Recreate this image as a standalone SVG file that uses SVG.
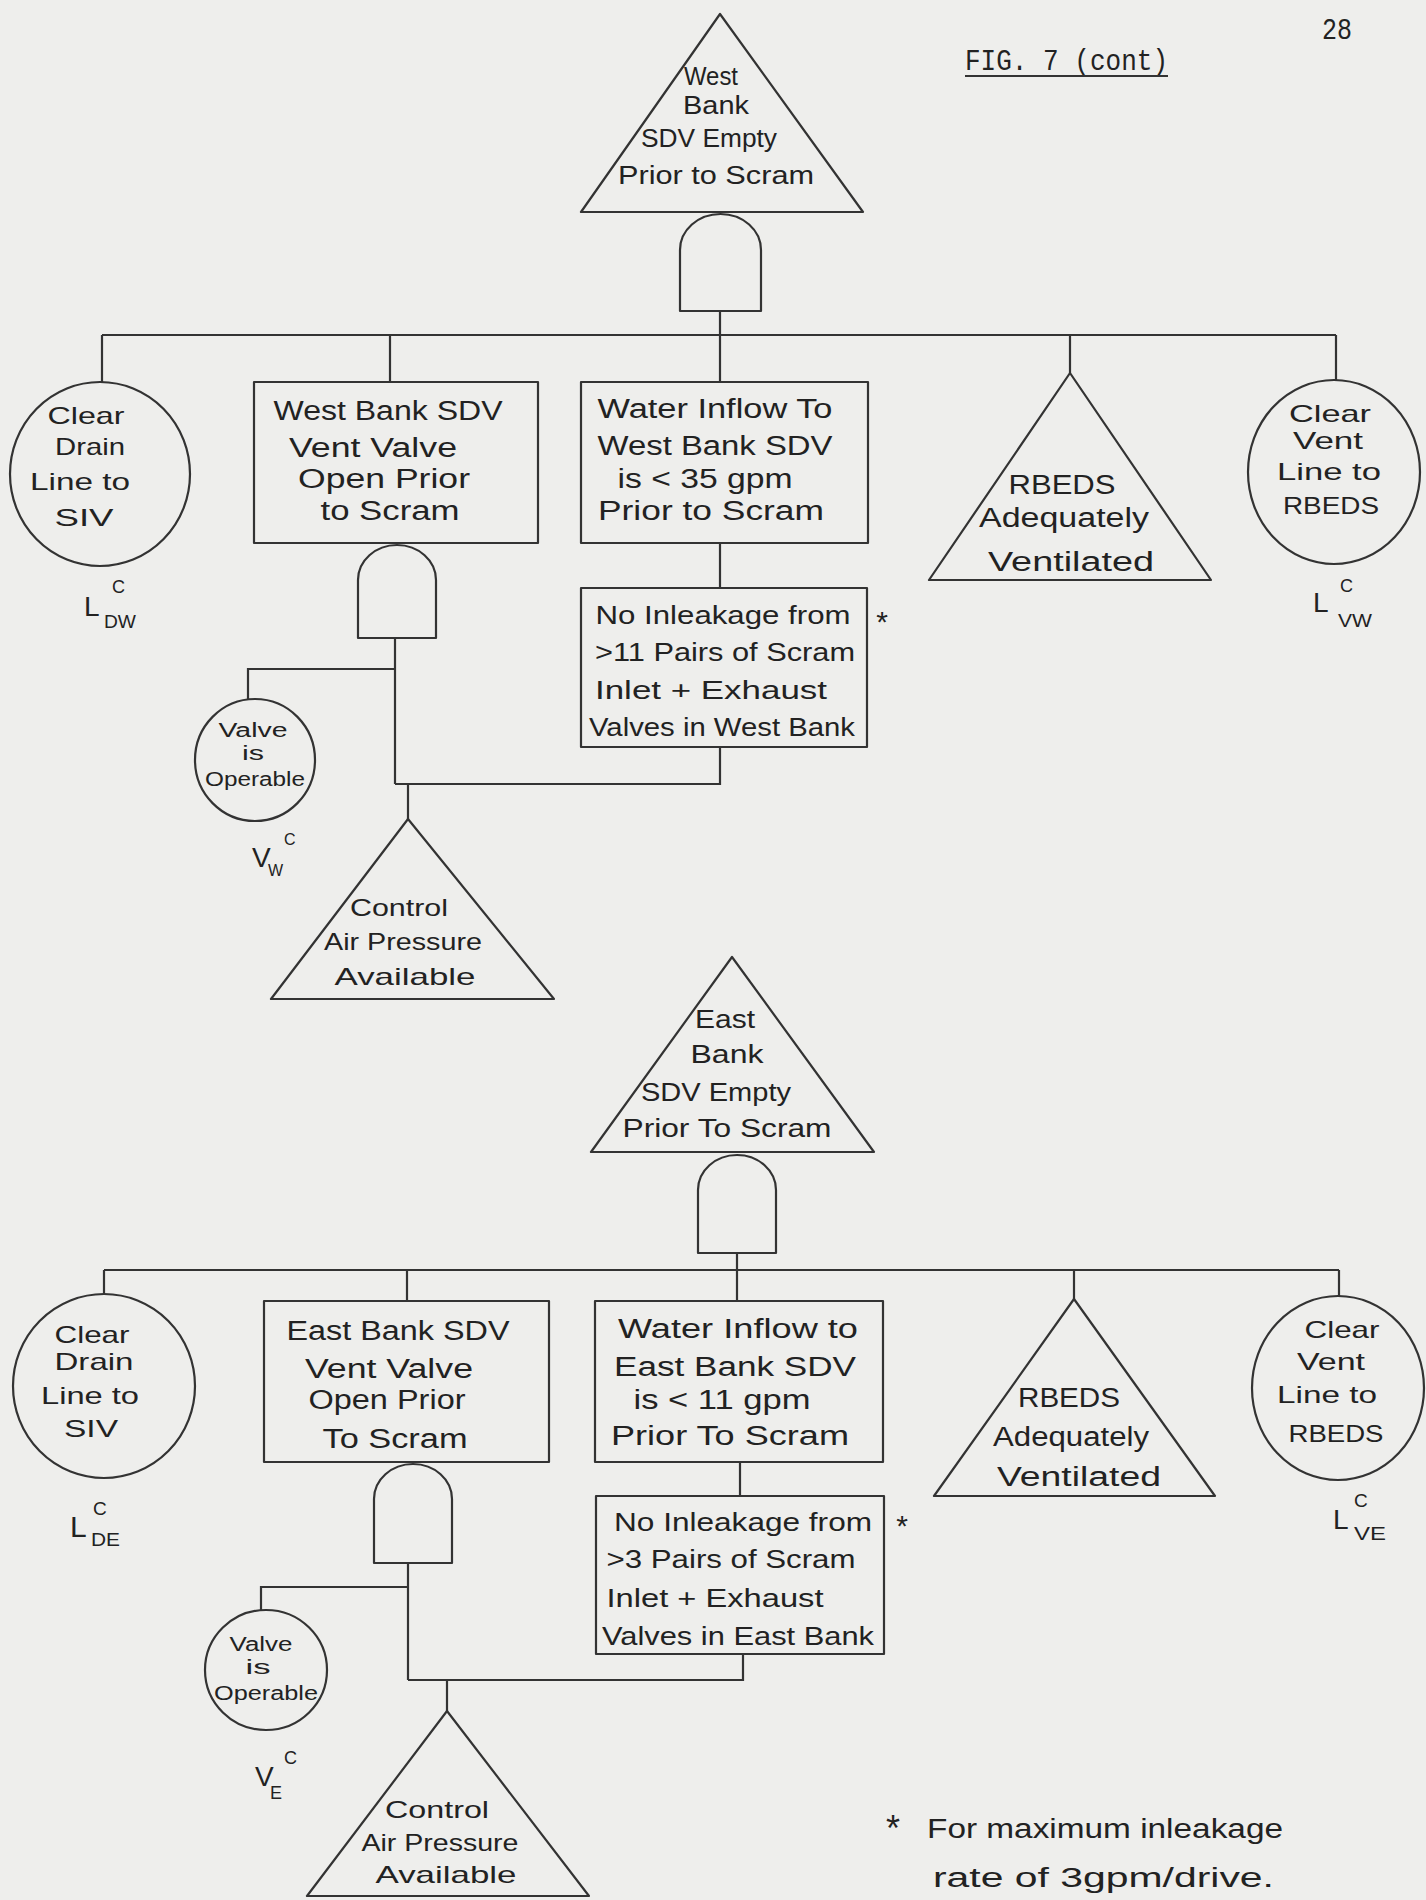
<svg xmlns="http://www.w3.org/2000/svg" width="1426" height="1900" viewBox="0 0 1426 1900">
<style>
.s{fill:none;stroke:#333;stroke-width:2.2;stroke-linejoin:round}
.c{fill:none;stroke:#333;stroke-width:2.2}
text{font-family:"Liberation Sans",Arial,sans-serif;fill:#222}
.t{font-size:27px;text-anchor:middle}
.tc{font-size:24px;text-anchor:middle}
.tv{font-size:20px;text-anchor:middle}
.L{font-size:28px}
.sub{font-size:18px}
.m{font-family:"Liberation Mono","Courier New",monospace;font-size:30px}
.ast{font-size:30px;text-anchor:middle}
</style>
<rect width="1426" height="1900" fill="#eeeeec"/>
<g id="header">
<text class="m" x="965" y="70" textLength="203" lengthAdjust="spacingAndGlyphs">FIG. 7 (cont)</text>
<line class="c" x1="965" y1="76" x2="1168" y2="76"/>
<text class="m" x="1322" y="39" textLength="30" lengthAdjust="spacingAndGlyphs">28</text>
</g>
<g id="connectors">
<path class="c" d="M720,311V335M102,335H1336M102,335V382M390,335V382M720,335V382M1070,335V373M1336,335V380M720,543V588M395,638V784M395,669H248V699M395,784H720V747M408,784V819"/>
<path class="c" d="M737,1253V1270M104,1270H1339M104,1270V1293M407,1270V1301M737,1270V1301M1074,1270V1299M1339,1270V1296M740,1462V1496M408,1563V1680M408,1587H261V1610M408,1680H743V1654M447,1680V1711"/>
</g>
<g id="w_top">
<path class="s" d="M720,14L581,212H863Z"/>
<text class="t" style="font-size:26px" x="711" y="85" textLength="54" lengthAdjust="spacingAndGlyphs">West</text>
<text class="t" style="font-size:26px" x="716" y="114" textLength="66" lengthAdjust="spacingAndGlyphs">Bank</text>
<text class="t" style="font-size:26px" x="709" y="147" textLength="136" lengthAdjust="spacingAndGlyphs">SDV Empty</text>
<text class="t" style="font-size:26px" x="716" y="184" textLength="196" lengthAdjust="spacingAndGlyphs">Prior to Scram</text>
</g>
<g id="w_gate1"><path class="s" d="M680,311V250A40.5,36 0 0 1 761,250V311Z"/></g>
<g id="w_drain">
<ellipse class="s" cx="100" cy="474" rx="90" ry="92"/>
<text class="tc" x="86" y="424" textLength="77" lengthAdjust="spacingAndGlyphs">Clear</text>
<text class="tc" x="90" y="455" textLength="70" lengthAdjust="spacingAndGlyphs">Drain</text>
<text class="tc" x="80" y="490" textLength="100" lengthAdjust="spacingAndGlyphs">Line to</text>
<text class="tc" x="84" y="526" textLength="59" lengthAdjust="spacingAndGlyphs">SIV</text>
<text class="L" x="84" y="616">L</text>
<text class="sub" x="112" y="593">C</text>
<text class="sub" x="104" y="628" textLength="32" lengthAdjust="spacingAndGlyphs">DW</text>
</g>
<g id="w_vent_valve">
<rect class="s" x="254" y="382" width="284" height="161"/>
<text class="t" x="388" y="420" textLength="229" lengthAdjust="spacingAndGlyphs">West Bank SDV</text>
<text class="t" x="373" y="457" textLength="168" lengthAdjust="spacingAndGlyphs">Vent Valve</text>
<text class="t" x="384" y="488" textLength="172" lengthAdjust="spacingAndGlyphs">Open Prior</text>
<text class="t" x="390" y="520" textLength="139" lengthAdjust="spacingAndGlyphs">to Scram</text>
</g>
<g id="w_gate2"><path class="s" d="M358,638V580A39,35 0 0 1 436,580V638Z"/></g>
<g id="w_inflow">
<rect class="s" x="581" y="382" width="287" height="161"/>
<text class="t" x="715" y="418" textLength="235" lengthAdjust="spacingAndGlyphs">Water Inflow To</text>
<text class="t" x="715" y="455" textLength="235" lengthAdjust="spacingAndGlyphs">West Bank SDV</text>
<text class="t" x="705" y="488" textLength="175" lengthAdjust="spacingAndGlyphs">is &lt; 35 gpm</text>
<text class="t" x="711" y="520" textLength="226" lengthAdjust="spacingAndGlyphs">Prior to Scram</text>
</g>
<g id="w_inleak">
<rect class="s" x="581" y="588" width="286" height="159"/>
<text class="t" style="font-size:26px" x="723" y="624" textLength="255" lengthAdjust="spacingAndGlyphs">No Inleakage from</text>
<text class="t" style="font-size:26px" x="725" y="661" textLength="260" lengthAdjust="spacingAndGlyphs">&gt;11 Pairs of Scram</text>
<text class="t" style="font-size:26px" x="711" y="699" textLength="232" lengthAdjust="spacingAndGlyphs">Inlet + Exhaust</text>
<text class="t" style="font-size:26px" x="722" y="736" textLength="266" lengthAdjust="spacingAndGlyphs">Valves in West Bank</text>
<text class="ast" x="882" y="632">*</text>
</g>
<g id="w_valve_op">
<ellipse class="s" cx="255" cy="760" rx="60" ry="61"/>
<text class="tv" x="253" y="737" textLength="69" lengthAdjust="spacingAndGlyphs">Valve</text>
<text class="tv" x="253" y="760" textLength="22" lengthAdjust="spacingAndGlyphs">is</text>
<text class="tv" x="255" y="786" textLength="100" lengthAdjust="spacingAndGlyphs">Operable</text>
<text class="L" x="252" y="867">V</text>
<text class="sub" style="font-size:16px" x="284" y="845">C</text>
<text class="sub" style="font-size:16px" x="268" y="876">W</text>
</g>
<g id="w_air">
<path class="s" d="M408,819L271,999H554Z"/>
<text class="tc" x="399" y="916" textLength="98" lengthAdjust="spacingAndGlyphs">Control</text>
<text class="tc" x="403" y="950" textLength="158" lengthAdjust="spacingAndGlyphs">Air Pressure</text>
<text class="tc" x="405" y="985" textLength="141" lengthAdjust="spacingAndGlyphs">Available</text>
</g>
<g id="w_rbeds">
<path class="s" d="M1070,373L929,580H1211Z"/>
<text class="t" x="1062" y="494" textLength="107" lengthAdjust="spacingAndGlyphs">RBEDS</text>
<text class="t" x="1064" y="527" textLength="170" lengthAdjust="spacingAndGlyphs">Adequately</text>
<text class="t" x="1071" y="571" textLength="166" lengthAdjust="spacingAndGlyphs">Ventilated</text>
</g>
<g id="w_vent_line">
<ellipse class="s" cx="1334" cy="472" rx="86" ry="92"/>
<text class="tc" x="1330" y="422" textLength="82" lengthAdjust="spacingAndGlyphs">Clear</text>
<text class="tc" x="1328" y="449" textLength="70" lengthAdjust="spacingAndGlyphs">Vent</text>
<text class="tc" x="1329" y="480" textLength="104" lengthAdjust="spacingAndGlyphs">Line to</text>
<text class="tc" x="1331" y="514" textLength="96" lengthAdjust="spacingAndGlyphs">RBEDS</text>
<text class="L" x="1313" y="612">L</text>
<text class="sub" x="1340" y="592">C</text>
<text class="sub" x="1338" y="627" textLength="34" lengthAdjust="spacingAndGlyphs">VW</text>
</g>
<g id="e_top">
<path class="s" d="M732,957L591,1152H874Z"/>
<text class="t" style="font-size:26px" x="725" y="1028" textLength="60" lengthAdjust="spacingAndGlyphs">East</text>
<text class="t" style="font-size:26px" x="727" y="1063" textLength="73" lengthAdjust="spacingAndGlyphs">Bank</text>
<text class="t" style="font-size:26px" x="716" y="1101" textLength="150" lengthAdjust="spacingAndGlyphs">SDV Empty</text>
<text class="t" style="font-size:26px" x="727" y="1137" textLength="209" lengthAdjust="spacingAndGlyphs">Prior To Scram</text>
</g>
<g id="e_gate1"><path class="s" d="M698,1253V1190A39,35 0 0 1 776,1190V1253Z"/></g>
<g id="e_drain">
<ellipse class="s" cx="104" cy="1386" rx="91" ry="92"/>
<text class="tc" x="92" y="1343" textLength="75" lengthAdjust="spacingAndGlyphs">Clear</text>
<text class="tc" x="94" y="1370" textLength="79" lengthAdjust="spacingAndGlyphs">Drain</text>
<text class="tc" x="90" y="1404" textLength="98" lengthAdjust="spacingAndGlyphs">Line to</text>
<text class="tc" x="91" y="1437" textLength="54" lengthAdjust="spacingAndGlyphs">SIV</text>
<text class="L" style="font-size:30px" x="70" y="1537">L</text>
<text class="sub" style="font-size:19px" x="93" y="1515">C</text>
<text class="sub" style="font-size:19px" x="91" y="1546" textLength="29" lengthAdjust="spacingAndGlyphs">DE</text>
</g>
<g id="e_vent_valve">
<rect class="s" x="264" y="1301" width="285" height="161"/>
<text class="t" x="398" y="1340" textLength="223" lengthAdjust="spacingAndGlyphs">East Bank SDV</text>
<text class="t" x="389" y="1378" textLength="168" lengthAdjust="spacingAndGlyphs">Vent Valve</text>
<text class="t" x="387" y="1409" textLength="157" lengthAdjust="spacingAndGlyphs">Open Prior</text>
<text class="t" x="395" y="1448" textLength="145" lengthAdjust="spacingAndGlyphs">To Scram</text>
</g>
<g id="e_gate2"><path class="s" d="M374,1563V1499A39,35 0 0 1 452,1499V1563Z"/></g>
<g id="e_inflow">
<rect class="s" x="595" y="1301" width="288" height="161"/>
<text class="t" x="738" y="1338" textLength="240" lengthAdjust="spacingAndGlyphs">Water Inflow to</text>
<text class="t" x="735" y="1376" textLength="242" lengthAdjust="spacingAndGlyphs">East Bank SDV</text>
<text class="t" x="722" y="1409" textLength="177" lengthAdjust="spacingAndGlyphs">is &lt; 11 gpm</text>
<text class="t" x="730" y="1445" textLength="238" lengthAdjust="spacingAndGlyphs">Prior To Scram</text>
</g>
<g id="e_inleak">
<rect class="s" x="596" y="1496" width="288" height="158"/>
<text class="t" style="font-size:26px" x="743" y="1531" textLength="258" lengthAdjust="spacingAndGlyphs">No Inleakage from</text>
<text class="t" style="font-size:26px" x="731" y="1568" textLength="249" lengthAdjust="spacingAndGlyphs">&gt;3 Pairs of Scram</text>
<text class="t" style="font-size:26px" x="715" y="1607" textLength="217" lengthAdjust="spacingAndGlyphs">Inlet + Exhaust</text>
<text class="t" style="font-size:26px" x="738" y="1645" textLength="272" lengthAdjust="spacingAndGlyphs">Valves in East Bank</text>
<text class="ast" x="902" y="1536">*</text>
</g>
<g id="e_valve_op">
<ellipse class="s" cx="266" cy="1670" rx="61" ry="60"/>
<text class="tv" x="261" y="1651" textLength="63" lengthAdjust="spacingAndGlyphs">Valve</text>
<text class="tv" x="258" y="1674" textLength="25" lengthAdjust="spacingAndGlyphs">is</text>
<text class="tv" x="266" y="1700" textLength="104" lengthAdjust="spacingAndGlyphs">Operable</text>
<text class="L" x="255" y="1786">V</text>
<text class="sub" x="284" y="1764">C</text>
<text class="sub" x="270" y="1799">E</text>
</g>
<g id="e_air">
<path class="s" d="M447,1711L307,1896H589Z"/>
<text class="tc" x="437" y="1818" textLength="104" lengthAdjust="spacingAndGlyphs">Control</text>
<text class="tc" x="440" y="1851" textLength="157" lengthAdjust="spacingAndGlyphs">Air Pressure</text>
<text class="tc" x="446" y="1883" textLength="141" lengthAdjust="spacingAndGlyphs">Available</text>
</g>
<g id="e_rbeds">
<path class="s" d="M1074,1299L934,1496H1215Z"/>
<text class="t" x="1069" y="1407" textLength="102" lengthAdjust="spacingAndGlyphs">RBEDS</text>
<text class="t" x="1071" y="1446" textLength="156" lengthAdjust="spacingAndGlyphs">Adequately</text>
<text class="t" x="1079" y="1486" textLength="164" lengthAdjust="spacingAndGlyphs">Ventilated</text>
</g>
<g id="e_vent_line">
<ellipse class="s" cx="1338" cy="1388" rx="86" ry="92"/>
<text class="tc" x="1342" y="1338" textLength="75" lengthAdjust="spacingAndGlyphs">Clear</text>
<text class="tc" x="1331" y="1370" textLength="68" lengthAdjust="spacingAndGlyphs">Vent</text>
<text class="tc" x="1327" y="1403" textLength="100" lengthAdjust="spacingAndGlyphs">Line to</text>
<text class="tc" x="1336" y="1442" textLength="95" lengthAdjust="spacingAndGlyphs">RBEDS</text>
<text class="L" x="1333" y="1529">L</text>
<text class="sub" style="font-size:19px" x="1354" y="1507">C</text>
<text class="sub" style="font-size:19px" x="1354" y="1540" textLength="32" lengthAdjust="spacingAndGlyphs">VE</text>
</g>
<g id="footnote">
<text class="ast" style="font-size:36px" x="893" y="1841">*</text>
<text style="font-size:27px" x="927" y="1838" textLength="356" lengthAdjust="spacingAndGlyphs">For maximum inleakage</text>
<text style="font-size:27px" x="933" y="1887" textLength="341" lengthAdjust="spacingAndGlyphs">rate of 3gpm/drive.</text>
</g>
</svg>
